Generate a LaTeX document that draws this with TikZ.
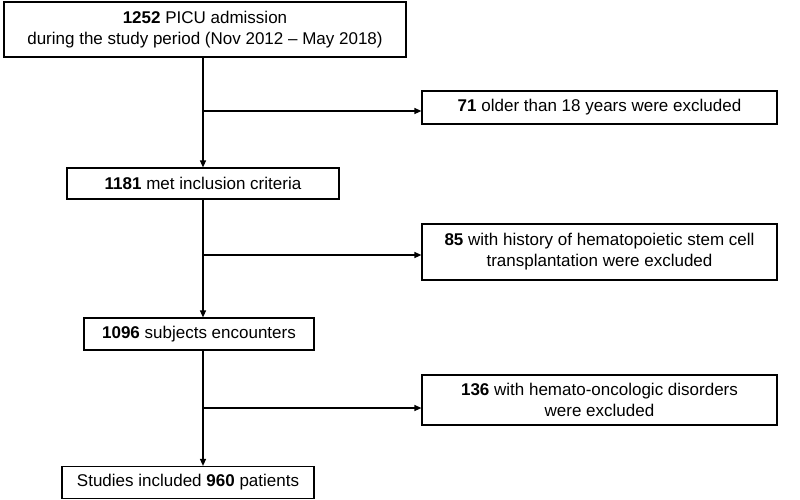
\documentclass[tikz,border=0pt]{standalone}
\usepackage{fontspec}
\setmainfont{Liberation Sans}
\usetikzlibrary{arrows.meta}
\begin{document}
\begin{tikzpicture}[x=1pt,y=-1pt,
  box/.style={draw,line width=1.2pt,inner sep=0pt,align=center,font=\fontsize{17}{21}\selectfont},
  arr/.style={line width=1.2pt,-{Triangle[length=7pt,width=6pt]}}]
\useasboundingbox (0,0) rectangle (800,499);
\node[box,minimum width=402pt,minimum height=55pt] (a) at (205,29.5) {\textbf{1252} PICU admission\\during the study period (Nov 2012 -- May 2018)};
\node[box,minimum width=355pt,minimum height=33pt] (e1) at (599.5,107.5) {\textbf{71} older than 18 years were excluded};
\node[box,minimum width=272pt,minimum height=31pt] (b) at (203,183.5) {\textbf{1181} met inclusion criteria};
\node[box,minimum width=355pt,minimum height=56pt] (e2) at (599.5,252) {\textbf{85} with history of hematopoietic stem cell\\transplantation were excluded};
\node[box,minimum width=230pt,minimum height=32pt] (c) at (199,334) {\textbf{1096} subjects encounters};
\node[box,minimum width=355pt,minimum height=50pt] (e3) at (599.5,400) {\textbf{136} with hemato-oncologic disorders\\were excluded};
\node[box,minimum width=252pt,minimum height=32pt] (d) at (188,482.5) {Studies included \textbf{960} patients};
\coordinate (j1) at (203,111);
\coordinate (j2) at (203,255);
\coordinate (j3) at (203,408);
\draw[arr] (a.south -| j1) -- (b.north -| j1);
\draw[arr] (j1) -- (j1 -| e1.west);
\draw[arr] (b.south -| j2) -- (c.north -| j2);
\draw[arr] (j2) -- (j2 -| e2.west);
\draw[arr] (c.south -| j3) -- (d.north -| j3);
\draw[arr] (j3) -- (j3 -| e3.west);
\end{tikzpicture}
\end{document}
